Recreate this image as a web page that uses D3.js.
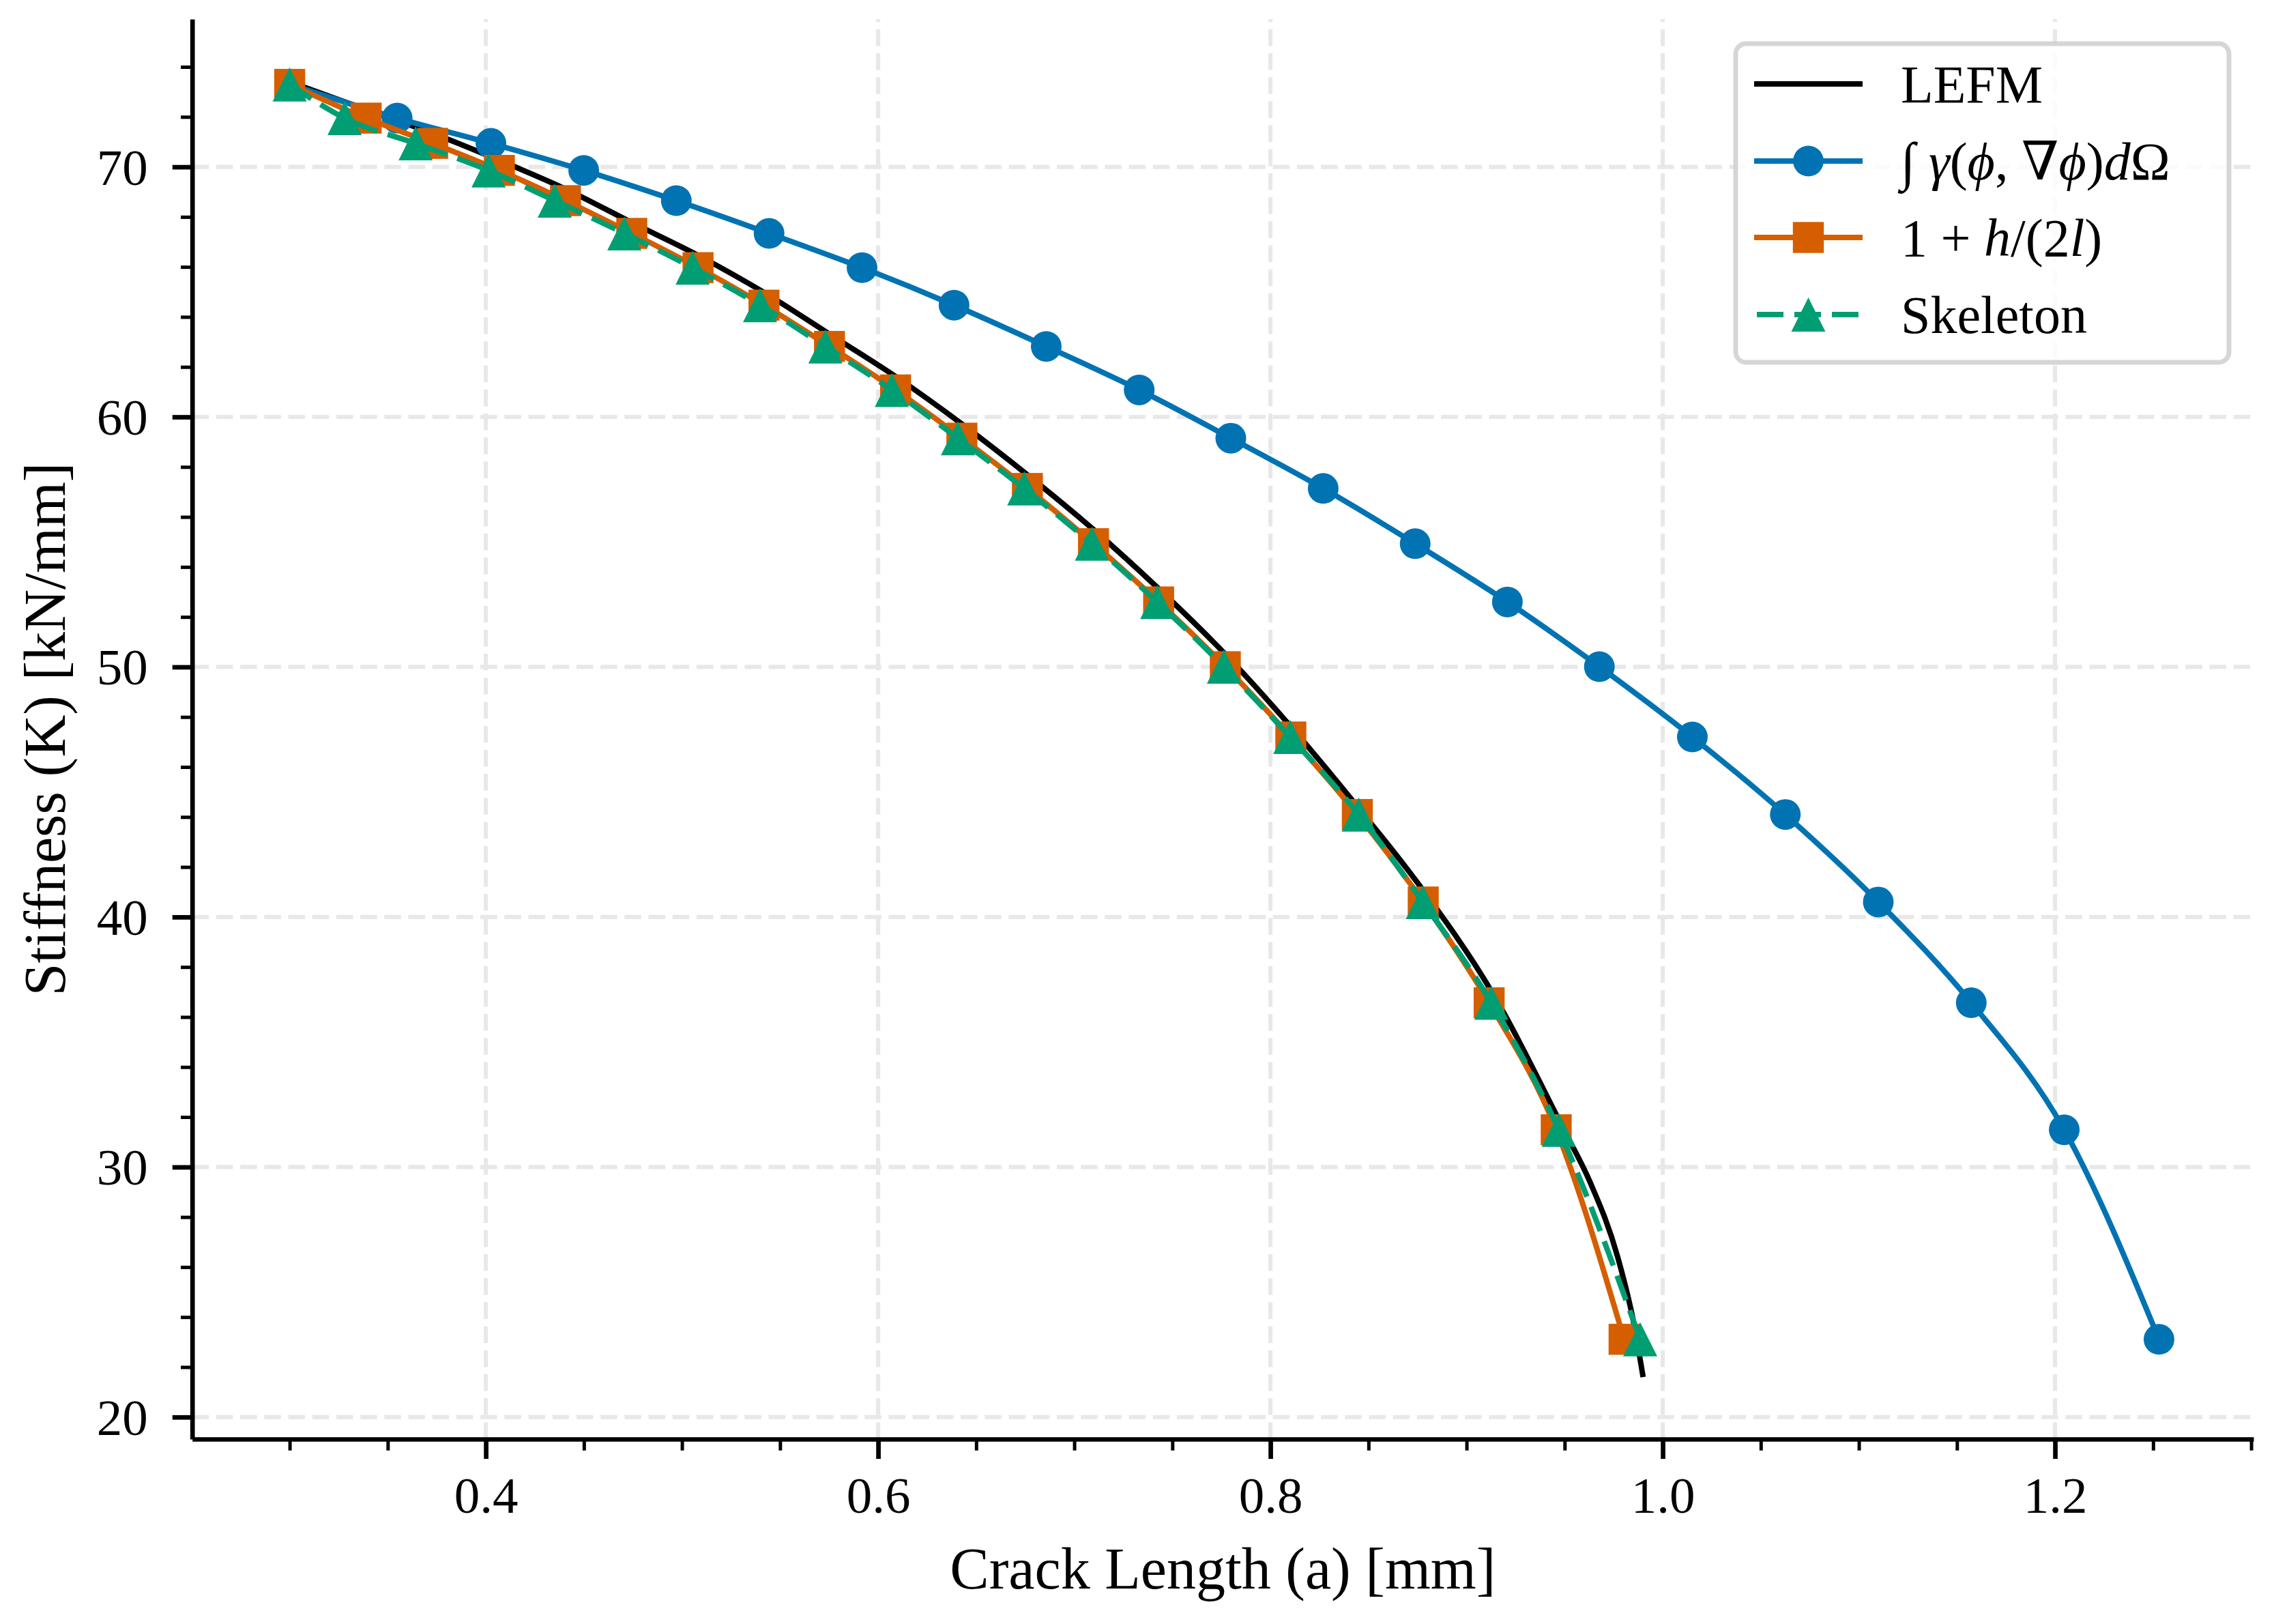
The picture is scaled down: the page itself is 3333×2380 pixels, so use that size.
<!DOCTYPE html>
<html lang="en">
<head>
<meta charset="UTF-8">
<title>Stiffness vs crack length</title>
<script src="https://cdn.jsdelivr.net/npm/d3@7"></script>
<style>
    body { margin: 0; background: #fff; }
    text { font-family: "Liberation Serif", "DejaVu Serif", serif; fill: #000; }
</style>
</head>
<body>
<script>

    // stiffness (same levels for the three marker series)
    var stiffness = [73.30, 71.95, 70.94, 69.86, 68.65, 67.34, 65.97, 64.47, 62.82, 61.08,
                     59.15, 57.14, 54.93, 52.60, 50.01, 47.20, 44.10, 40.60, 36.57, 31.49, 23.11];

    // crack length for each method
    var crackGamma = [0.300, 0.3548, 0.4026, 0.4499, 0.4971, 0.5444, 0.5918, 0.6387, 0.6857, 0.7331,
                      0.7798, 0.8269, 0.8738, 0.9208, 0.9677, 1.0151, 1.0625, 1.1099, 1.1573, 1.2047, 1.2530];
    var crackH = [0.300, 0.339, 0.3729, 0.4069, 0.4406, 0.4744, 0.5082, 0.5418, 0.5752, 0.6089,
                  0.6427, 0.6761, 0.7098, 0.7430, 0.7770, 0.8104, 0.8443, 0.8779, 0.9115, 0.9457, 0.9803];
    var crackSkel = [0.300, 0.328, 0.3642, 0.4014, 0.4351, 0.4706, 0.5054, 0.5398, 0.5731, 0.6070,
                     0.6407, 0.6745, 0.7090, 0.7423, 0.7763, 0.8101, 0.8450, 0.8777, 0.9126, 0.9470, 0.9885];

    // LEFM reference curve
    var lefmA = [0.300, 0.339, 0.373, 0.407, 0.441, 0.474, 0.508, 0.542, 0.575, 0.609, 0.643, 0.676,
                 0.710, 0.743, 0.777, 0.810, 0.844, 0.878, 0.912, 0.9496, 0.963, 0.977, 0.985, 0.990];
    var lefmK = [73.40, 72.29, 71.34, 70.26, 69.10, 67.79, 66.47, 64.97, 63.32, 61.61, 59.70, 57.69,
                 55.48, 53.13, 50.51, 47.65, 44.45, 41.05, 37.12, 31.49, 29.39, 26.41, 23.85, 21.60];

    var xMajor = [0.4, 0.6, 0.8, 1.0, 1.2];
    var xMinor = [0.30, 0.35, 0.45, 0.50, 0.55, 0.65, 0.70, 0.75, 0.85, 0.90, 0.95, 1.05, 1.10, 1.15, 1.25, 1.30];
    var yMajor = [20, 30, 40, 50, 60, 70];
    var yMinor = [22, 24, 26, 28, 32, 34, 36, 38, 42, 44, 46, 48, 52, 54, 56, 58, 62, 64, 66, 68, 72, 74];

    var width = 3333;
    var height = 2380;
    var plot = {left: 281.7, right: 3303, top: 28, bottom: 2109};

    var svg = d3.select("body").append("svg")
        .attr("width", width)
        .attr("height", height)
        .attr("viewBox", [0, 0, width, height]);

    svg.append("rect").attr("width", width).attr("height", height).attr("fill", "#fff");

    var xScale = d3.scaleLinear().domain([0.2503, 1.3012]).range([plot.left, plot.right]);
    var yScale = d3.scaleLinear().domain([19.12, 75.91]).range([plot.bottom, plot.top]);

    var zip = function (xs, ys) { return xs.map(function (v, i) { return [v, ys[i]]; }); };

    var series = [
        {name: "lefm", pts: zip(lefmA, lefmK), color: "#000000", marker: null, dash: null},
        {name: "gamma", pts: zip(crackGamma, stiffness), color: "#0173B2", marker: "circle", dash: null},
        {name: "h2l", pts: zip(crackH, stiffness), color: "#D55E00", marker: "square", dash: null},
        {name: "skel", pts: zip(crackSkel, stiffness), color: "#029E73", marker: "triangle", dash: "38,16"}
    ];

    var legendLabels = [
        [["LEFM", false]],
        [["\u222B ", false], ["\u03B3", true], ["(", false], ["\u03D5", true], [", \u2207", false],
         ["\u03D5", true], [")", false], ["d", true], ["\u03A9", false]],
        [["1 + ", false], ["h", true], ["/(2", false], ["l", true], [")", false]],
        [["Skeleton", false]]
    ];

    // grid
    var grid = svg.append("g");
    grid.selectAll(".vg").data(xMajor).enter().append("line")
        .attr("x1", function (d) { return xScale(d); })
        .attr("x2", function (d) { return xScale(d); })
        .attr("y1", plot.bottom).attr("y2", plot.top)
        .attr("stroke", "#e8e8e8").attr("stroke-width", 6.2)
        .attr("stroke-dasharray", "24.5,10.7");
    grid.selectAll(".hg").data(yMajor).enter().append("line")
        .attr("y1", function (d) { return yScale(d); })
        .attr("y2", function (d) { return yScale(d); })
        .attr("x1", plot.left).attr("x2", plot.right)
        .attr("stroke", "#e8e8e8").attr("stroke-width", 6.2)
        .attr("stroke-dasharray", "24.5,10.7");

    var line = d3.line()
        .x(function (d) { return xScale(d[0]); })
        .y(function (d) { return yScale(d[1]); })
        .curve(d3.curveMonotoneX);

    function drawMarker(g, type, cx, cy, color) {
        if (type === "circle") {
            g.append("circle").attr("cx", cx).attr("cy", cy).attr("r", 22.5).attr("fill", color);
        } else if (type === "square") {
            g.append("rect").attr("x", cx - 22.7).attr("y", cy - 22.7)
                .attr("width", 45.4).attr("height", 45.4).attr("fill", color);
        } else if (type === "triangle") {
            g.append("path")
                .attr("d", "M" + cx + "," + (cy - 25) + "L" + (cx - 25) + "," + (cy + 25) +
                    "L" + (cx + 25) + "," + (cy + 25) + "Z")
                .attr("fill", color);
        }
    }

    var g_lines = svg.append("g");
    series.forEach(function (s) {
        var g = g_lines.append("g");
        g.append("path")
            .datum(s.pts)
            .attr("fill", "none")
            .attr("stroke", s.color)
            .attr("stroke-width", 8)
            .attr("stroke-dasharray", s.dash)
            .attr("d", line);
        if (s.marker) {
            s.pts.forEach(function (p) {
                drawMarker(g, s.marker, xScale(p[0]), yScale(p[1]), s.color);
            });
        }
    });

    // axes
    var xAxis = svg.append("g")
        .attr("transform", "translate(0," + plot.bottom + ")")
        .call(d3.axisBottom(xScale).tickValues(xMajor).tickSize(29).tickSizeOuter(0)
            .tickFormat(d3.format(".1f")));
    var xMinorAxis = svg.append("g")
        .attr("transform", "translate(0," + plot.bottom + ")")
        .call(d3.axisBottom(xScale).tickValues(xMinor).tickSize(16.7).tickFormat(""));
    var yAxis = svg.append("g")
        .attr("transform", "translate(" + plot.left + ",0)")
        .call(d3.axisLeft(yScale).tickValues(yMajor).tickSize(29).tickSizeOuter(0).tickPadding(36));
    var yMinorAxis = svg.append("g")
        .attr("transform", "translate(" + plot.left + ",0)")
        .call(d3.axisLeft(yScale).tickValues(yMinor).tickSize(16.7).tickFormat(""));

    [xMinorAxis, yMinorAxis].forEach(function (a) {
        a.select(".domain").remove();
        a.selectAll(".tick line").attr("stroke-width", 5);
    });
    [xAxis, yAxis].forEach(function (a) {
        a.select(".domain").attr("stroke-width", 6.7);
        a.selectAll(".tick line").attr("stroke-width", 6.7);
        a.selectAll(".tick text").attr("font-size", 75)
            .attr("font-family", "Liberation Serif, DejaVu Serif, serif");
    });
    xAxis.selectAll(".tick text").attr("y", 108).attr("dy", null);
    yAxis.selectAll(".tick text").attr("dy", "0.34em");

    // axis labels
    svg.append("text")
        .attr("x", (plot.left + plot.right) / 2)
        .attr("y", 2328)
        .attr("text-anchor", "middle")
        .attr("font-size", 86)
        .text("Crack Length (a) [mm]");

    svg.append("text")
        .attr("transform", "translate(95," + ((plot.top + plot.bottom) / 2) + ") rotate(-90)")
        .attr("text-anchor", "middle")
        .attr("font-size", 86)
        .text("Stiffness (K) [kN/mm]");

    // legend
    var legend = svg.append("g");
    legend.append("rect")
        .attr("x", 2544).attr("y", 64)
        .attr("width", 723).attr("height", 467)
        .attr("rx", 15).attr("ry", 15)
        .attr("fill", "#fff").attr("fill-opacity", 0.8)
        .attr("stroke", "#cccccc").attr("stroke-opacity", 0.8)
        .attr("stroke-width", 7);

    var rowY = [123, 236, 348, 461];
    series.forEach(function (s, i) {
        var yy = rowY[i];
        legend.append("line")
            .attr("x1", 2571).attr("x2", 2730)
            .attr("y1", yy).attr("y2", yy)
            .attr("stroke", s.color).attr("stroke-width", 8)
            .attr("stroke-dasharray", s.dash ? "39,16" : null)
            .attr("stroke-dashoffset", s.dash ? -4 : null);
        if (s.marker) drawMarker(legend, s.marker, 2650.5, yy, s.color);

        var t = legend.append("text")
            .attr("x", 2786).attr("y", yy + 27)
            .attr("font-size", 78);
        legendLabels[i].forEach(function (part) {
            t.append("tspan")
                .attr("font-style", part[1] ? "italic" : null)
                .text(part[0]);
        });
    });

</script>
</body>
</html>
